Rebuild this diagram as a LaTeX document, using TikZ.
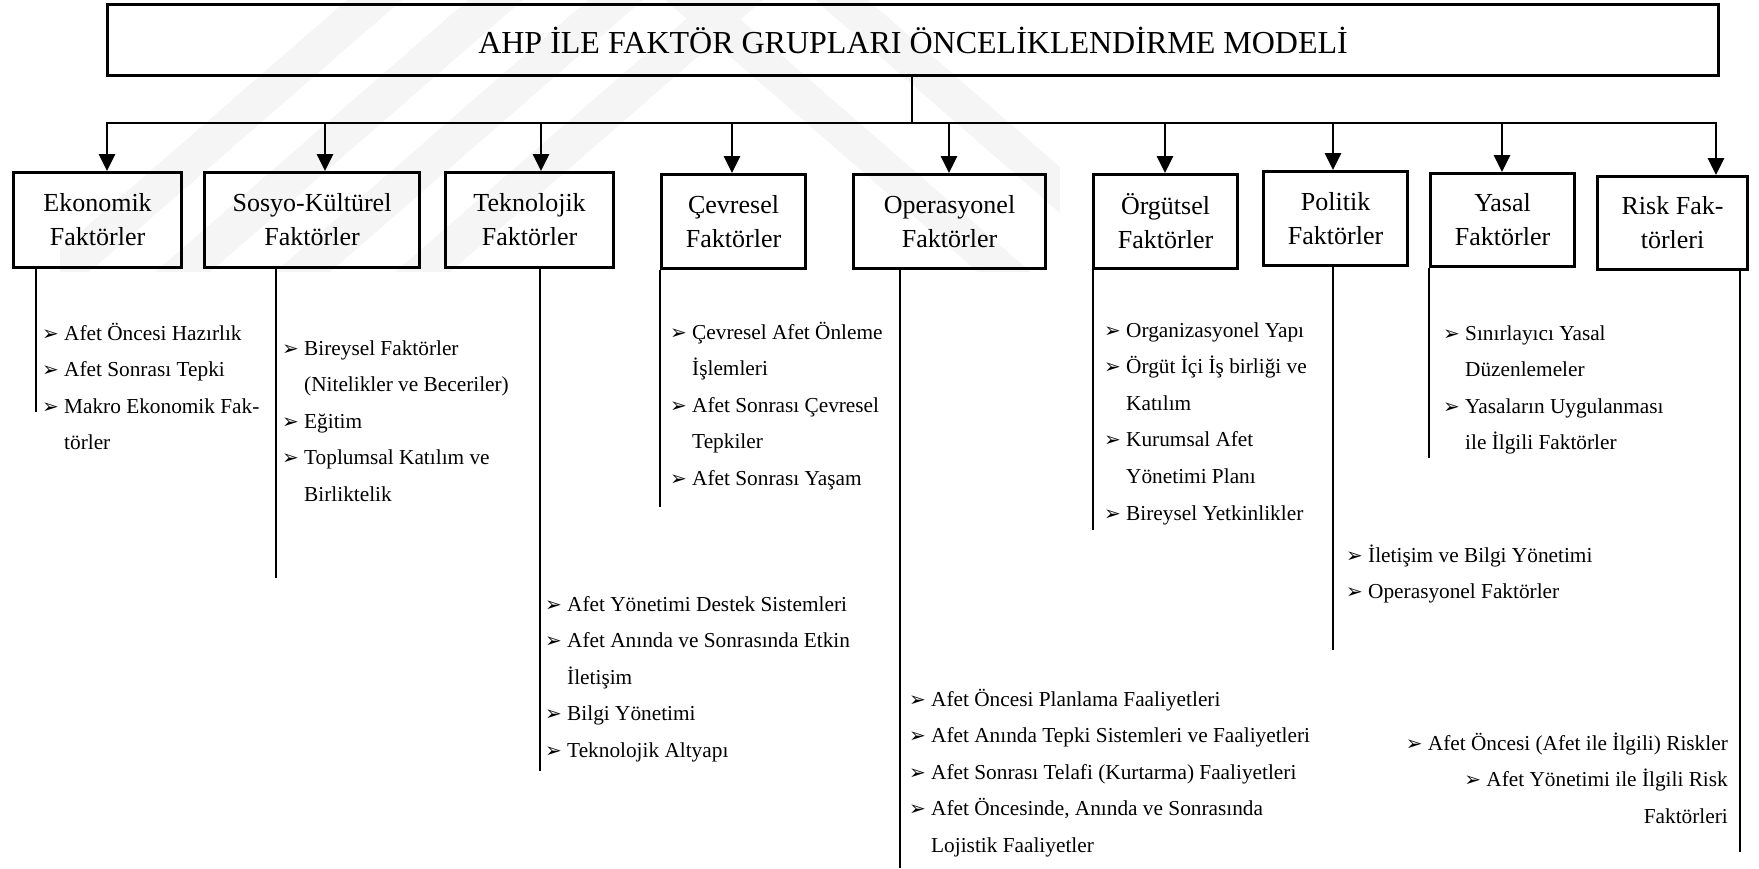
\documentclass[tikz,border=0pt]{standalone}
\usepackage{fontspec}
\setmainfont{Liberation Serif}
\newfontfamily\dingfont{DejaVu Sans}
\usetikzlibrary{arrows.meta}

% bullet marker and hanging indent for list lines
\newcommand\bl{\makebox[22pt][l]{\raisebox{0pt}{\dingfont\fontsize{20}{20}\selectfont ➢}}}
\newcommand\cont{\hspace*{22pt}}

\begin{document}
\begin{tikzpicture}[x=1pt,y=-1pt,
  frame/.style={draw, line width=3.1pt, inner sep=0pt, anchor=north west},
  title/.style={frame, font=\fontsize{32}{38}\selectfont},
  factor/.style={frame, align=center, font=\fontsize{26}{34}\selectfont},
  wire/.style={line width=2.9pt},
  arr/.style={wire, -{Triangle[width=16pt,length=17pt]}},
  list/.style={inner sep=0pt, font=\fontsize{21.3}{36.6}\selectfont},
  band/.style={fill=black!4, draw=none}
]
\useasboundingbox (0,0) rectangle (1759,868);

% faint striped background mark
\begin{scope}
  \clip (60,0) rectangle (1060,272);
  \foreach \x in {232,353,473,593}
    \fill[band] (\x+115,0) -- (\x+170,0) -- (\x+55-1.15*172,272) -- (\x-1.15*172,272) -- cycle;
  \foreach \x in {780,930}
    \fill[band] (\x-115,0) -- (\x-62,0) -- (\x+53+1.15*172,272) -- (\x+1.15*172,272) -- cycle;
\end{scope}

% main box
\node[title, minimum width=1611pt, minimum height=71pt] (top) at (106,3)
  {AHP İLE FAKTÖR GRUPLARI ÖNCELİKLENDİRME MODELİ};

% factor group boxes
\node[factor, minimum width=168pt, minimum height=95pt] (eko) at (12,171)   {Ekonomik\\Faktörler};
\node[factor, minimum width=215pt, minimum height=95pt] (sos) at (203,171)  {Sosyo-Kültürel\\Faktörler};
\node[factor, minimum width=168pt, minimum height=95pt] (tek) at (444,171)  {Teknolojik\\Faktörler};
\node[factor, minimum width=144pt, minimum height=94pt] (cev) at (660,173)  {Çevresel\\Faktörler};
\node[factor, minimum width=192pt, minimum height=94pt] (ope) at (852,173)  {Operasyonel\\Faktörler};
\node[factor, minimum width=144pt, minimum height=94pt] (org) at (1092,173) {Örgütsel\\Faktörler};
\node[factor, minimum width=144pt, minimum height=94pt] (pol) at (1262,170) {Politik\\Faktörler};
\node[factor, minimum width=144pt, minimum height=93pt] (yas) at (1429,172) {Yasal\\Faktörler};
\node[factor, minimum width=150pt, minimum height=93pt] (rsk) at (1596,175) {Risk Fak-\\törleri};

% distribution bus
\coordinate (hub) at (912,123);
\coordinate (t1) at (107,123);
\coordinate (t2) at (325,123);
\coordinate (t3) at (541,123);
\coordinate (t4) at (732,123);
\coordinate (t5) at (949,123);
\coordinate (t6) at (1165,123);
\coordinate (t7) at (1333,123);
\coordinate (t8) at (1502,123);
\coordinate (t9) at (1716,123);

\draw[wire] (top.south -| hub) -- (hub);
\draw[wire, line cap=rect] (t1) -- (t9);
\draw[arr] (t1) -- (t1 |- eko.north);
\draw[arr] (t2) -- (t2 |- sos.north);
\draw[arr] (t3) -- (t3 |- tek.north);
\draw[arr] (t4) -- (t4 |- cev.north);
\draw[arr] (t5) -- (t5 |- ope.north);
\draw[arr] (t6) -- (t6 |- org.north);
\draw[arr] (t7) -- (t7 |- pol.north);
\draw[arr] (t8) -- (t8 |- yas.north);
\draw[arr] (t9) -- (t9 |- rsk.north);

% drop lines under each group
\coordinate (d1) at (36,412);
\coordinate (d2) at (276,578);
\coordinate (d3) at (540,771);
\coordinate (d4) at (660,507);
\coordinate (d5) at (900,868);
\coordinate (d6) at (1093,530);
\coordinate (d7) at (1333,650);
\coordinate (d8) at (1429,458);
\coordinate (d9) at (1740,852);

\draw[wire] (d1 |- eko.south) -- (d1);
\draw[wire] (d2 |- sos.south) -- (d2);
\draw[wire] (d3 |- tek.south) -- (d3);
\draw[wire] (d4 |- cev.south) -- (d4);
\draw[wire] (d5 |- ope.south) -- (d5);
\draw[wire] (d6 |- org.south) -- (d6);
\draw[wire] (d7 |- pol.south) -- (d7);
\draw[wire] (d8 |- yas.south) -- (d8);
\draw[wire] (d9 |- rsk.south) -- (d9);

% sub-factor lists
\node[list, anchor=base west] (l1) at (42,340) {\begin{tabular}[t]{@{}l@{}}
\bl Afet Öncesi Hazırlık\\
\bl Afet Sonrası Tepki\\
\bl Makro Ekonomik Fak-\\
\cont törler\end{tabular}};

\node[list, anchor=base west] (l2) at (282,355) {\begin{tabular}[t]{@{}l@{}}
\bl Bireysel Faktörler\\
\cont (Nitelikler ve Beceriler)\\
\bl Eğitim\\
\bl Toplumsal Katılım ve\\
\cont Birliktelik\end{tabular}};

\node[list, anchor=base west] (l3) at (545,611) {\begin{tabular}[t]{@{}l@{}}
\bl Afet Yönetimi Destek Sistemleri\\
\bl Afet Anında ve Sonrasında Etkin\\
\cont İletişim\\
\bl Bilgi Yönetimi\\
\bl Teknolojik Altyapı\end{tabular}};

\node[list, anchor=base west] (l4) at (670,339) {\begin{tabular}[t]{@{}l@{}}
\bl Çevresel Afet Önleme\\
\cont İşlemleri\\
\bl Afet Sonrası Çevresel\\
\cont Tepkiler\\
\bl Afet Sonrası Yaşam\end{tabular}};

\node[list, anchor=base west] (l5) at (909,706) {\begin{tabular}[t]{@{}l@{}}
\bl Afet Öncesi Planlama Faaliyetleri\\
\bl Afet Anında Tepki Sistemleri ve Faaliyetleri\\
\bl Afet Sonrası Telafi (Kurtarma) Faaliyetleri\\
\bl Afet Öncesinde, Anında ve Sonrasında\\
\cont Lojistik Faaliyetler\end{tabular}};

\node[list, anchor=base west] (l6) at (1104,337) {\begin{tabular}[t]{@{}l@{}}
\bl Organizasyonel Yapı\\
\bl Örgüt İçi İş birliği ve\\
\cont Katılım\\
\bl Kurumsal Afet\\
\cont Yönetimi Planı\\
\bl Bireysel Yetkinlikler\end{tabular}};

\node[list, anchor=base west] (l7) at (1346,562) {\begin{tabular}[t]{@{}l@{}}
\bl İletişim ve Bilgi Yönetimi\\
\bl Operasyonel Faktörler\end{tabular}};

\node[list, anchor=base west] (l8) at (1443,340) {\begin{tabular}[t]{@{}l@{}}
\bl Sınırlayıcı Yasal\\
\cont Düzenlemeler\\
\bl Yasaların Uygulanması\\
\cont ile İlgili Faktörler\end{tabular}};

\node[list, anchor=base east] (l9) at (1728,750) {\begin{tabular}[t]{@{}r@{}}
\bl Afet Öncesi (Afet ile İlgili) Riskler\\
\bl Afet Yönetimi ile İlgili Risk\\
Faktörleri\end{tabular}};
\end{tikzpicture}
\end{document}
